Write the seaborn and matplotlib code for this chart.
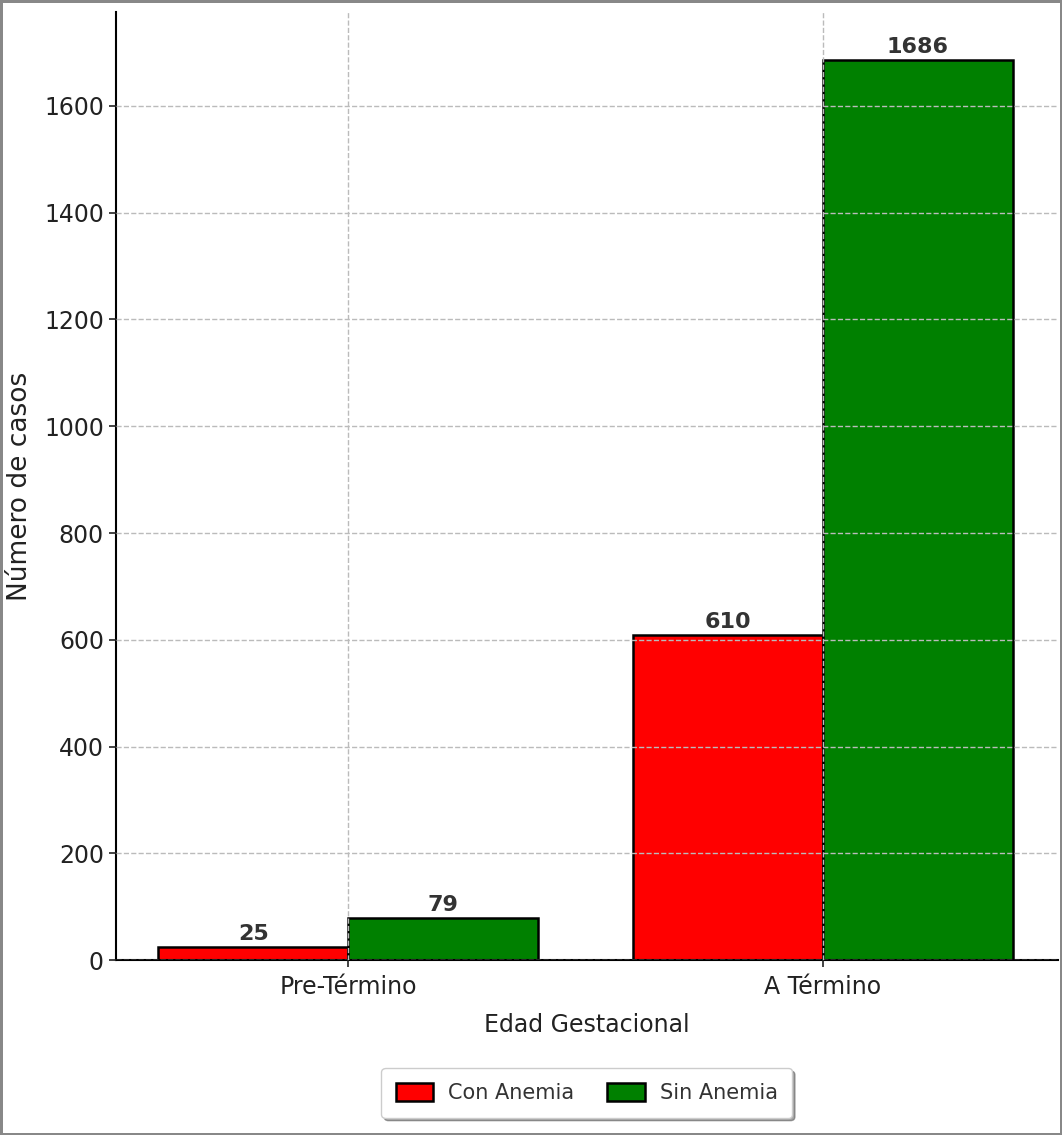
import pandas as pd
import matplotlib
matplotlib.use('Agg')
import matplotlib.pyplot as plt
import seaborn as sns

# --- data ---
categories = ['Pre-Término', 'A Término']
con_anemia = [25, 610]
sin_anemia = [79, 1686]
groups = ['Con Anemia', 'Sin Anemia']

df = pd.DataFrame({
    'Edad Gestacional': categories * 2,
    'Grupo': [groups[0]] * len(categories) + [groups[1]] * len(categories),
    'Casos': con_anemia + sin_anemia,
})

sns.set_style('white')
plt.rcParams['font.family'] = ['DejaVu Sans']
plt.rcParams['axes.unicode_minus'] = False

fig, ax = plt.subplots(figsize=(10.62, 11.35), dpi=100)
fig.patch.set_edgecolor('#888888')
fig.patch.set_linewidth(2.5)

palette = {'Con Anemia': '#ff0000', 'Sin Anemia': '#008000'}
sns.barplot(data=df, x='Edad Gestacional', y='Casos', hue='Grupo',
            hue_order=groups, palette=palette, edgecolor='black',
            linewidth=1.8, saturation=1, width=0.8, ax=ax, legend=True)

# value labels on top of each bar
for c in ax.containers:
    ax.bar_label(c, padding=2, fontsize=16, fontweight='bold', color='#333333')

ax.set_ylim(0, 1775)
ax.set_xlim(-0.49, 1.495)
ax.set_axisbelow(False)  # grid drawn over the bars, as in the reference
ax.grid(True, linestyle='--', color='#bbbbbb', linewidth=1.0)

for s in ['top', 'right']:
    ax.spines[s].set_visible(False)
for s in ['left', 'bottom']:
    ax.spines[s].set_color('black')
    ax.spines[s].set_linewidth(1.5)

ax.tick_params(axis='both', labelsize=17, colors='#222222', length=5, width=1.2,
               left=True, bottom=True)
ax.tick_params(axis='x', pad=6)
ax.set_xlabel('Edad Gestacional', fontsize=17, color='#222222', labelpad=10)
ax.set_ylabel('Número de casos', fontsize=19, color='#222222')
ax.yaxis.set_label_coords(-0.088, 0.5)

ax.legend(loc='upper center', bbox_to_anchor=(0.5, -0.103), ncol=2, fontsize=15,
          frameon=True, shadow=True, fancybox=True, handlelength=1.8,
          handleheight=1.0, handletextpad=0.7, columnspacing=1.6,
          borderpad=0.7, labelcolor='#333333')

plt.subplots_adjust(left=0.109, right=0.996, top=0.989, bottom=0.154)
plt.savefig('out.png', dpi=100, edgecolor=fig.get_edgecolor())
